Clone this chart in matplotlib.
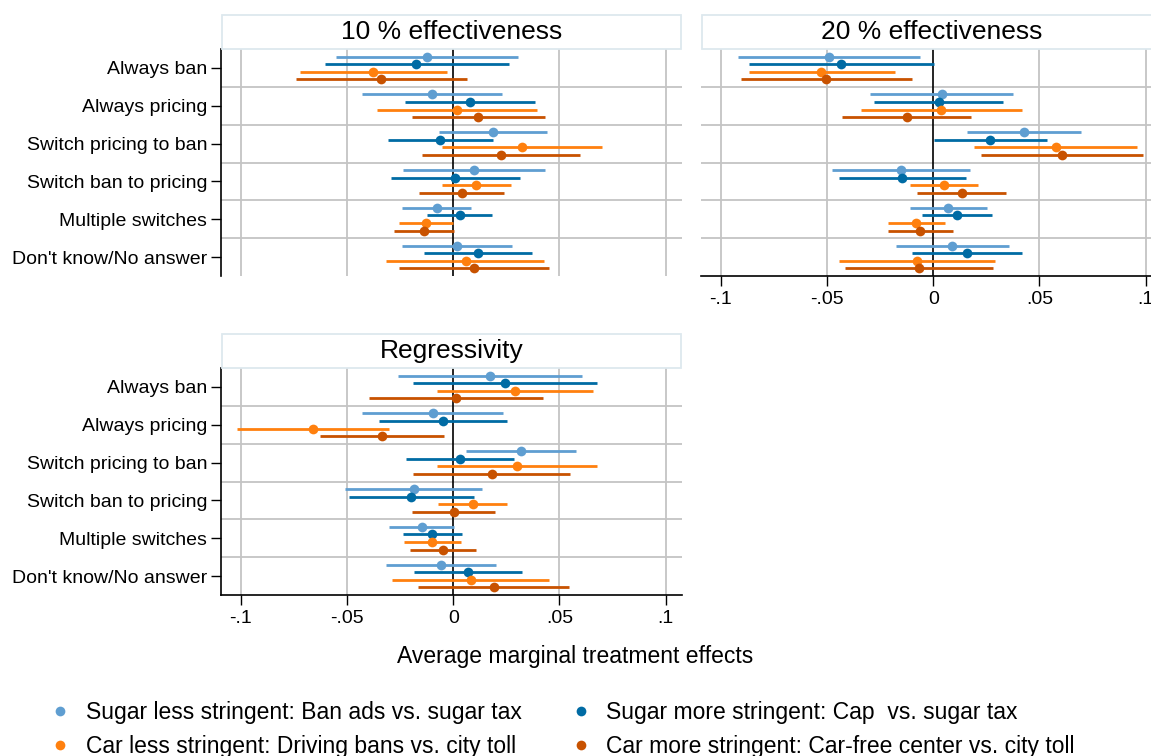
import matplotlib.pyplot as plt
from matplotlib.patches import Rectangle
from matplotlib.lines import Line2D

plt.rcParams["font.family"] = ["Liberation Sans", "DejaVu Sans"]

categories = ["Always ban", "Always pricing", "Switch pricing to ban",
              "Switch ban to pricing", "Multiple switches", "Don't know/No answer"]

series_labels = [
    "Sugar less stringent: Ban ads vs. sugar tax",
    "Sugar more stringent: Cap  vs. sugar tax",
    "Car less stringent: Driving bans vs. city toll",
    "Car more stringent: Car-free center vs. city toll",
]
series_colors = ["#5F9ED1", "#006BA4", "#FF800E", "#C85200"]

# point estimates and 95% CI bounds, one row per series, one column per category
eff10_est = [
    [-0.0122, -0.0100, 0.0187, 0.0097, -0.0078, 0.0019],
    [-0.0173, 0.0078, -0.0060, 0.0009, 0.0030, 0.0116],
    [-0.0376, 0.0019, 0.0323, 0.0108, -0.0129, 0.0058],
    [-0.0339, 0.0116, 0.0226, 0.0041, -0.0138, 0.0097],
]
eff10_lo = [
    [-0.0550, -0.0430, -0.0066, -0.0234, -0.0242, -0.0242],
    [-0.0605, -0.0226, -0.0306, -0.0295, -0.0122, -0.0138],
    [-0.0723, -0.0359, -0.0053, -0.0055, -0.0256, -0.0314],
    [-0.0742, -0.0193, -0.0146, -0.0160, -0.0279, -0.0254],
]
eff10_hi = [
    [0.0307, 0.0230, 0.0441, 0.0430, 0.0083, 0.0279],
    [0.0264, 0.0383, 0.0187, 0.0314, 0.0182, 0.0373],
    [-0.0030, 0.0395, 0.0701, 0.0271, -0.0003, 0.0427],
    [0.0066, 0.0430, 0.0598, 0.0240, 0.0003, 0.0450],
]

eff20_est = [
    [-0.0491, 0.0041, 0.0428, -0.0152, 0.0072, 0.0089],
    [-0.0433, 0.0025, 0.0268, -0.0146, 0.0110, 0.0157],
    [-0.0527, 0.0039, 0.0576, 0.0050, -0.0080, -0.0075],
    [-0.0504, -0.0125, 0.0605, 0.0135, -0.0060, -0.0069],
]
eff20_lo = [
    [-0.0918, -0.0298, 0.0160, -0.0475, -0.0108, -0.0177],
    [-0.0867, -0.0279, 0.0002, -0.0442, -0.0052, -0.0100],
    [-0.0869, -0.0342, 0.0193, -0.0108, -0.0215, -0.0442],
    [-0.0905, -0.0427, 0.0223, -0.0075, -0.0212, -0.0417],
]
eff20_hi = [
    [-0.0064, 0.0375, 0.0695, 0.0173, 0.0253, 0.0356],
    [0.0005, 0.0328, 0.0536, 0.0154, 0.0275, 0.0417],
    [-0.0182, 0.0417, 0.0960, 0.0210, 0.0056, 0.0293],
    [-0.0100, 0.0177, 0.0987, 0.0342, 0.0094, 0.0281],
]

regr_est = [
    [0.0174, -0.0097, 0.0318, -0.0185, -0.0147, -0.0058],
    [0.0243, -0.0047, 0.0030, -0.0198, -0.0099, 0.0069],
    [0.0289, -0.0659, 0.0300, 0.0091, -0.0099, 0.0083],
    [0.0014, -0.0334, 0.0182, 0.0002, -0.0047, 0.0191],
]
regr_lo = [
    [-0.0259, -0.0428, 0.0058, -0.0508, -0.0301, -0.0315],
    [-0.0191, -0.0347, -0.0221, -0.0489, -0.0235, -0.0184],
    [-0.0078, -0.1018, -0.0078, -0.0072, -0.0231, -0.0290],
    [-0.0397, -0.0626, -0.0191, -0.0196, -0.0202, -0.0165],
]
regr_hi = [
    [0.0605, 0.0234, 0.0579, 0.0136, 0.0006, 0.0201],
    [0.0678, 0.0251, 0.0284, 0.0099, 0.0041, 0.0323],
    [0.0657, -0.0301, 0.0676, 0.0253, 0.0035, 0.0453],
    [0.0425, -0.0044, 0.0552, 0.0199, 0.0105, 0.0546],
]

xticks = [-0.1, -0.05, 0, 0.05, 0.1]
xticklabels = ["-.1", "-.05", "0", ".05", ".1"]
offsets = [-0.3, -0.1, 0.1, 0.3]

W, H = 1151, 756
GRID = "#c4c4c4"
MS = 7


def panel(fig, left, top, right, bottom, title, est, lo, hi,
          ylabels=True, xaxis=True):
    ax = fig.add_axes([left / W, 1 - bottom / H, (right - left) / W, (bottom - top) / H])
    n = len(categories)
    ax.set_xlim(-0.1093, 0.1077)
    ax.set_ylim(n - 0.5, -0.5)

    for x in xticks:
        if x == 0:
            ax.axvline(0, color="black", lw=1.2, zorder=2)
        else:
            ax.axvline(x, color=GRID, lw=1.3, zorder=1)
    for k in range(n - 1):
        ax.axhline(k + 0.5, color=GRID, lw=1.3, zorder=1)

    for s in range(len(est)):
        ys = [i + offsets[s] for i in range(n)]
        ax.hlines(ys, lo[s], hi[s], color=series_colors[s], lw=2.0, zorder=3)
        ax.plot(est[s], ys, "o", color=series_colors[s], ms=MS, mec="none", zorder=4)

    for side in ["top", "right"]:
        ax.spines[side].set_visible(False)
    ax.spines["left"].set_visible(ylabels)
    ax.spines["bottom"].set_visible(xaxis)
    for side in ["left", "bottom"]:
        ax.spines[side].set_linewidth(1.2)

    ax.set_yticks(range(n))
    if ylabels:
        ax.set_yticklabels(categories, fontsize=14)
        ax.tick_params(axis="y", length=7, width=1.0, pad=3)
    else:
        ax.tick_params(axis="y", left=False, labelleft=False)

    ax.set_xticks(xticks)
    if xaxis:
        ax.set_xticklabels(xticklabels, fontsize=14)
        ax.tick_params(axis="x", length=7, width=1.0, pad=4)
    else:
        ax.tick_params(axis="x", bottom=False, labelbottom=False)

    # boxed panel header
    hb = 34 / (bottom - top)
    ax.add_patch(Rectangle((0.002, 1.0), 0.996, hb, transform=ax.transAxes,
                           facecolor="white", edgecolor="#dde8ee", lw=1.3,
                           clip_on=False, zorder=5))
    ax.text(0.5, 1 + hb / 2, title, transform=ax.transAxes, ha="center",
            va="center", fontsize=19, zorder=6)
    return ax


fig = plt.figure(figsize=(W / 100, H / 100), dpi=100)

panel(fig, 221, 49, 682, 276, "10 % effectiveness", eff10_est, eff10_lo, eff10_hi,
      ylabels=True, xaxis=False)
panel(fig, 701, 49, 1162, 276, "20 % effectiveness", eff20_est, eff20_lo, eff20_hi,
      ylabels=False, xaxis=True)
panel(fig, 221, 368, 682, 595, "Regressivity", regr_est, regr_lo, regr_hi,
      ylabels=True, xaxis=True)

fig.text(0.5, 1 - 656 / H, "Average marginal treatment effects", ha="center",
         va="center", fontsize=16.5)

# legend fills column-wise, so reorder to read row by row
order = [0, 2, 1, 3]
handles = [Line2D([], [], ls="none", marker="o", ms=MS, color=series_colors[i], mec="none")
           for i in order]
fig.legend(handles, [series_labels[i] for i in order], ncol=2, frameon=False,
           fontsize=16.5, loc="upper left", bbox_to_anchor=(42 / W, 1 - 690 / H),
           borderpad=0, handlelength=0.6, handletextpad=0.8,
           columnspacing=2.3, labelspacing=0.45)

fig.savefig("out.png", dpi=100)
